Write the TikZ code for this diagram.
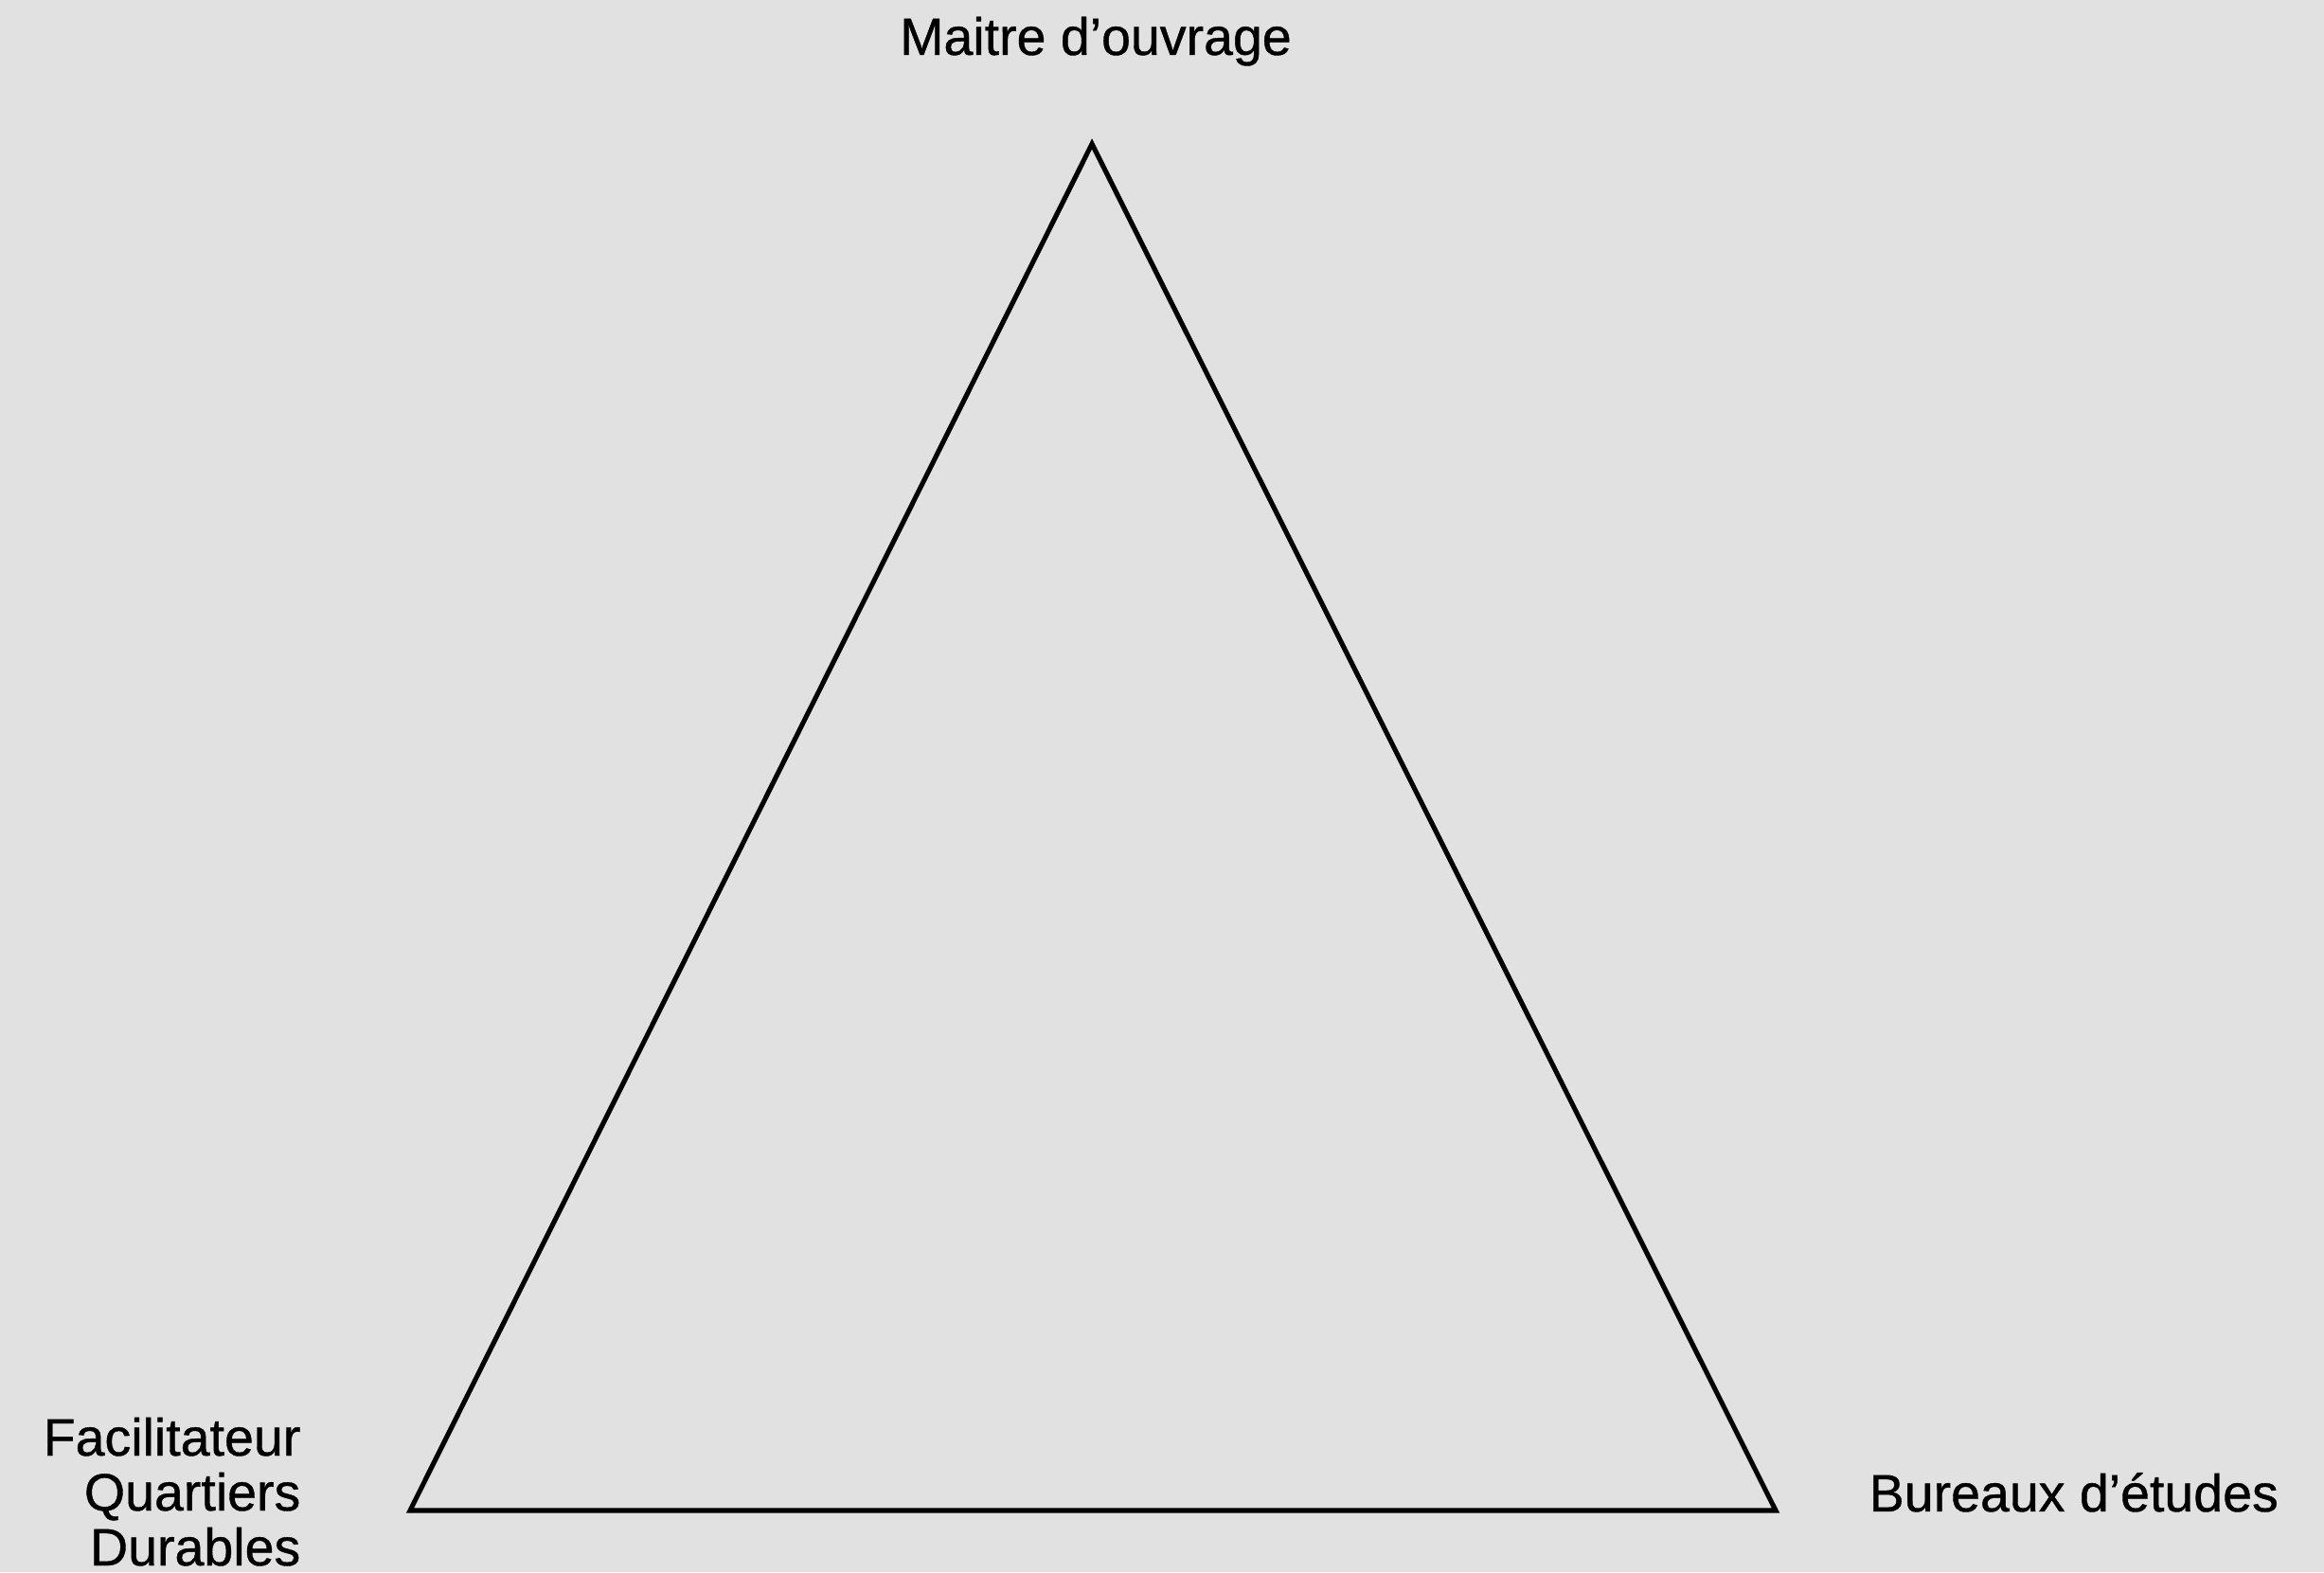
\documentclass[tikz,border=0pt]{standalone}
\usepackage{fontspec}
\setmainfont{Liberation Sans}
\newfontfamily\medium{Liberation Sans}[FakeBold=0.7]
\definecolor{fondgris}{HTML}{E1E1E1}
\begin{document}
\begin{tikzpicture}[x=1cm, y=1cm, line join=miter, every node/.style={inner sep=0pt, font=\fontsize{15.8}{16.5}\medium}]
	% 1. fond gris et cadre fixe
	\fill[fondgris] (0,0) rectangle (24.54,16.60);
	\useasboundingbox (0,0) rectangle (24.54,16.60);
	
	% 2. sommets du triangle
	\coordinate (mo) at (11.53,15.08);
	\coordinate (fqd) at (4.33,0.65);
	\coordinate (be) at (18.75,0.65);
	\draw[line width=1.45pt] (mo) -- (be) -- (fqd) -- cycle;
	
	% 3. acteurs
	\node[anchor=base] (lmo) at (11.57,16.02) {Maitre d’ouvrage};
	\node[anchor=base west] (lbe) at (19.73,0.64) {Bureaux d’études};
	\node[anchor=base east, align=right] (lfqd) at (3.18,0.07) {Facilitateur\\Quartiers\\Durables};
\end{tikzpicture}
\end{document}
